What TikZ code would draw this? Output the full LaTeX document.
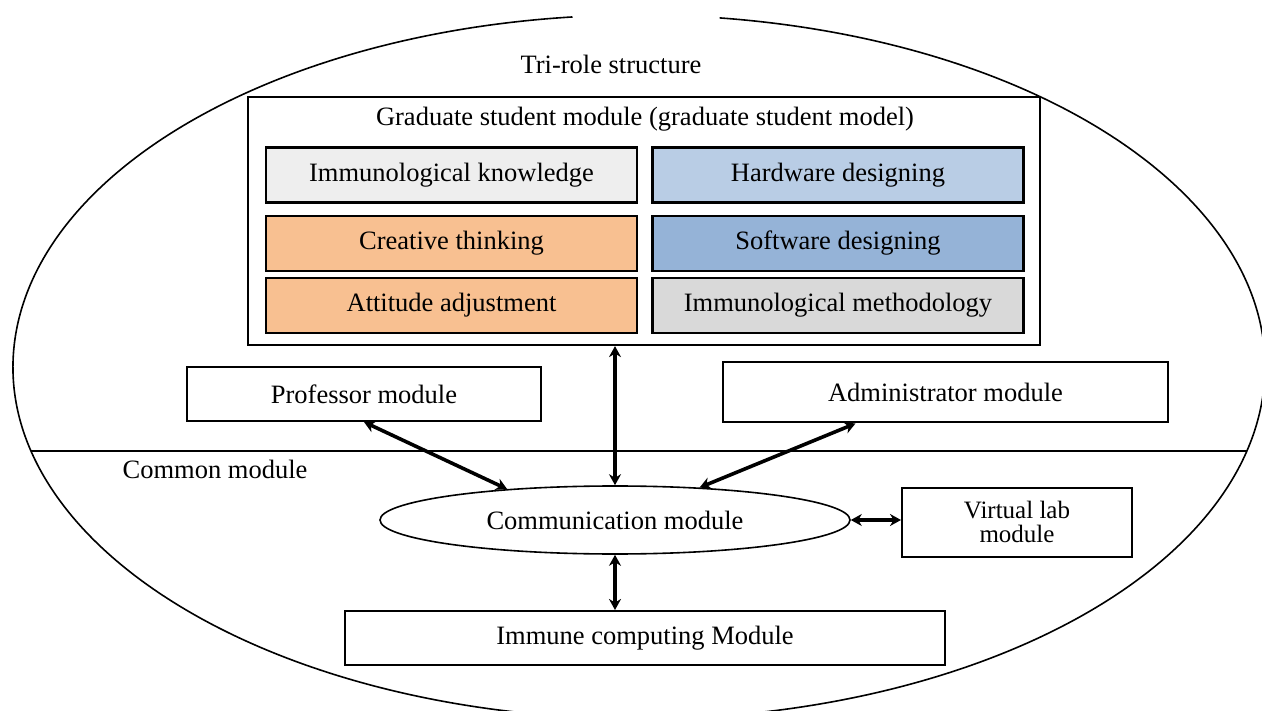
\documentclass[tikz,border=0pt]{standalone}
\usepackage{fontspec}
\setmainfont{Liberation Serif}
\usetikzlibrary{arrows.meta,shapes.geometric}
\definecolor{peach}{HTML}{F8C091}
\definecolor{paleblue}{HTML}{B9CDE5}
\definecolor{midblue}{HTML}{95B3D7}
\definecolor{lightgrey}{HTML}{D9D9D9}
\definecolor{mist}{HTML}{EEEEEE}
\begin{document}
\begin{tikzpicture}[x=1pt,y=-1pt,
  txt/.style={font=\fontsize{26.5}{28}\selectfont, text=black},
  cell/.style={draw, line width=2.2pt, minimum width=371pt, minimum height=55pt, inner sep=0pt, txt},
  modbox/.style={draw, line width=2pt, inner sep=0pt, txt},
  link/.style={line width=3.6pt, {Stealth[length=11pt,width=12pt]}-{Stealth[length=11pt,width=12pt]}}]
\useasboundingbox (0,0) rectangle (1262,711);

% outer boundary of the whole structure, open at the top
\begin{scope}
  \clip (0,0) rectangle (1262,711);
  \draw[line width=1.6pt] (719.6,17.9) arc [start angle=277.4, end angle=623.9, x radius=626, y radius=352];
\end{scope}

% divider between the role part and the common part
\coordinate (divL) at (31,451);
\coordinate (divR) at (1247,451);
\draw[line width=1.8pt] (divL) -- (divR);

\node[txt] (trirole) at (611,64) {Tri-role structure};
\node[txt] (common) at (215,469) {Common module};

% graduate student module with its six parts
\node[draw, line width=2.2pt, minimum width=792pt, minimum height=248pt, inner sep=0pt] (grad) at (644,221) {};
\node[txt] (gradtitle) at (645,119) {Graduate student module (graduate student model)};

\node[cell, fill=mist]       (knowledge) at (451.5,175)  {Immunological knowledge};
\node[cell, fill=paleblue]   (hardware)  at (838,175)    {Hardware designing};
\node[cell, fill=peach]      (creative)  at (451.5,243.5){Creative thinking};
\node[cell, fill=midblue]    (software)  at (838,243.5)  {Software designing};
\node[cell, fill=peach]      (attitude)  at (451.5,305.5){Attitude adjustment};
\node[cell, fill=lightgrey]  (method)    at (838,305.5)  {Immunological methodology};

% role modules
\node[modbox, minimum width=354pt, minimum height=54pt] (prof)  at (364,394)   {Professor module};
\node[modbox, minimum width=445pt, minimum height=60pt] (admin) at (945.5,392.5) {Administrator module};

% common modules
\node[draw, ellipse, line width=1.6pt, minimum width=470pt, minimum height=68pt, inner sep=0pt, txt] (comm) at (615,520) {Communication module};
\node[modbox, minimum width=230pt, minimum height=69pt, align=center, font=\fontsize{25}{24}\selectfont] (vlab) at (1017,522) {Virtual lab\\module};
\node[modbox, minimum width=600pt, minimum height=54pt] (imm) at (645,638) {Immune computing Module};

% two-way links
\draw[link] (grad.south -| comm.north) -- (comm.north);
\draw[link] (prof.south) -- (comm.164.5);
\draw[link] (admin.199.5) -- (comm.21.3);
\draw[link] (comm.east) -- (comm.east -| vlab.west);
\draw[link] (comm.south) -- (comm.south |- imm.north);
\end{tikzpicture}
\end{document}
